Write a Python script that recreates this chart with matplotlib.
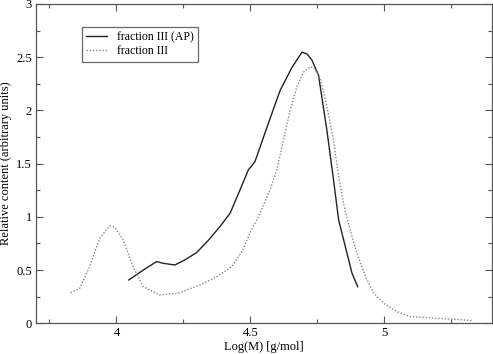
import matplotlib
matplotlib.use("Agg")
import matplotlib.pyplot as plt
from matplotlib.ticker import MultipleLocator

plt.rcParams['font.family'] = ['Liberation Serif', 'DejaVu Serif']

# fraction III (AP) - solid
ap_x = [4.046, 4.10, 4.150, 4.174, 4.218, 4.255, 4.299, 4.343, 4.386, 4.424, 4.461,
        4.492, 4.517, 4.567, 4.611, 4.654, 4.692, 4.711, 4.729, 4.754, 4.785,
        4.810, 4.829, 4.854, 4.879, 4.900]
ap_y = [0.407, 0.50, 0.580, 0.564, 0.548, 0.595, 0.664, 0.780, 0.908, 1.034, 1.253,
        1.440, 1.520, 1.880, 2.190, 2.400, 2.547, 2.531, 2.475, 2.330, 1.817,
        1.347, 0.971, 0.720, 0.470, 0.344]

# fraction III - dotted
f3_x = [3.829, 3.863, 3.900, 3.937, 3.975, 3.994, 4.025, 4.062, 4.100, 4.162,
        4.237, 4.312, 4.374, 4.430, 4.470, 4.500, 4.524, 4.573, 4.598, 4.623,
        4.648, 4.673, 4.698, 4.723, 4.738, 4.760, 4.785, 4.810, 4.826, 4.847,
        4.872, 4.897, 4.929, 4.960, 4.997, 5.047, 5.097, 5.159, 5.197, 5.259, 5.331]
f3_y = [0.288, 0.329, 0.532, 0.799, 0.914, 0.902, 0.783, 0.532, 0.344, 0.266,
        0.288, 0.360, 0.438, 0.532, 0.680, 0.860, 0.971, 1.253, 1.440, 1.720,
        2.000, 2.220, 2.360, 2.410, 2.400, 2.300, 2.040, 1.720, 1.430, 1.128,
        0.877, 0.658, 0.438, 0.282, 0.188, 0.109, 0.062, 0.053, 0.047, 0.038, 0.025]

fig = plt.figure(figsize=(4.93, 3.54), dpi=100)
ax = fig.add_axes([36 / 493, 1 - 323.3 / 354, 455.7 / 493, 319.3 / 354])

ax.plot(ap_x, ap_y, color='#222222', lw=1.0, label='fraction III (AP)')
ax.plot(f3_x, f3_y, color='#888888', lw=1.0, ls=(0, (1, 1.3)), label='fraction III')

ax.set_xlim(3.7, 5.4)
ax.set_ylim(0, 3)
ax.xaxis.set_major_locator(MultipleLocator(0.5))
ax.xaxis.set_minor_locator(MultipleLocator(0.25))
ax.yaxis.set_major_locator(MultipleLocator(0.5))
ax.yaxis.set_minor_locator(MultipleLocator(0.25))
ax.tick_params(which='both', direction='in', top=True, right=True,
               color='#555555', labelsize=9, pad=3)
ax.tick_params(which='major', length=5, width=0.8)
ax.tick_params(which='minor', length=3, width=0.8)
ax.set_xticks([4, 4.5, 5])
ax.set_xticklabels(['4', '4.5', '5'])
ax.set_yticks([0, 0.5, 1, 1.5, 2, 2.5, 3])
ax.set_yticklabels(['0', '0.5', '1', '1.5', '2', '2.5', '3'])
for s in ax.spines.values():
    s.set_color('#555555')
    s.set_linewidth(0.9)

ax.set_xlabel('Log(M) [g/mol]', fontsize=9, labelpad=1)
ax.set_ylabel('Relative content (arbitrary units)', fontsize=9, labelpad=3)

leg = ax.legend(loc='upper left', bbox_to_anchor=(0.101, 0.928), fontsize=8.5,
                frameon=True, fancybox=False, edgecolor='#444444',
                handlelength=1.8, handletextpad=0.8, borderpad=0.35,
                labelspacing=0.2, borderaxespad=0)
leg.get_frame().set_linewidth(0.9)

fig.savefig('out.png', dpi=100)
